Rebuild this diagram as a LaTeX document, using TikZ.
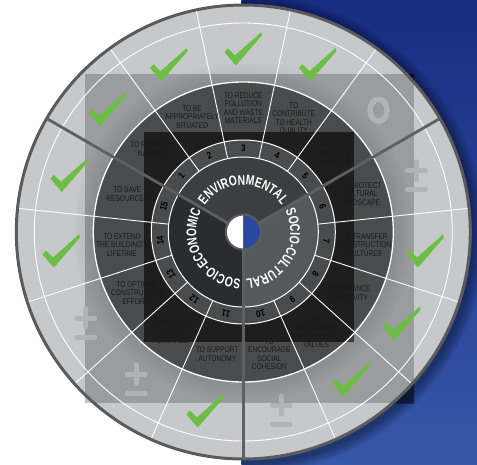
\documentclass[tikz,border=0pt]{standalone}
\usepackage{fontspec}
\setmainfont{Liberation Sans}
\newfontfamily\lblfam{Liberation Sans}[FakeStretch=0.8]
\newfontfamily\catfam{Liberation Sans}[FakeStretch=0.74]
\newfontfamily\numfam{Liberation Sans}[FakeStretch=0.85]
\newcommand\catfnt{\catfam\bfseries\fontsize{14}{14}\selectfont}
\usetikzlibrary{decorations.text}
\definecolor{ringlight}{HTML}{C7C8CA}
\definecolor{textring}{HTML}{606163}
\definecolor{numring}{HTML}{4A4B4D}
\definecolor{envsec}{HTML}{3D3E40}
\definecolor{cultsec}{HTML}{57585A}
\definecolor{econsec}{HTML}{2B2C2E}
\definecolor{catline}{HTML}{5E5F61}
\definecolor{edgegray}{HTML}{5A5B5D}
\definecolor{checkgreen}{HTML}{6DBE45}
\definecolor{symgray}{HTML}{B2B3B5}
\definecolor{discblue}{HTML}{2B48A0}
\definecolor{bgtop}{HTML}{172D82}
\definecolor{bgbot}{HTML}{3757A9}
\definecolor{lbltext}{HTML}{1A1A1A}
\tikzset{
  lbl/.style={align=center, inner sep=0pt, text=lbltext, font=\lblfam\fontsize{8.2}{8.5}\selectfont},
  numlbl/.style={inner sep=0pt, text=black, font=\numfam\bfseries\fontsize{9.5}{9.5}\selectfont},
  thinwhite/.style={white, line width=0.9pt},
  checkmark/.pic={\fill[checkgreen] (-18.8,-3.2) -- (-15.5,0.5) -- (-8.2,-6.3) -- (17.8,16.8) -- (18.8,13.8) -- (-7.5,-16.5) -- cycle;},
  plusminus/.pic={\draw[symgray, line width=5pt, line cap=round] (-9,5) -- (9,5) (0,-4) -- (0,14) (-9,-14) -- (9,-14);},
  zerosym/.pic={\draw[symgray, line width=5.5pt] (0,0) ellipse[x radius=8.5, y radius=11];}
}
\begin{document}
\begin{tikzpicture}[x=1pt,y=1pt]
\useasboundingbox (-243.3,-232) rectangle (233.7,232);
\fill[white] (-243.3,-232) rectangle (233.7,232);
\shade[top color=bgtop,bottom color=bgbot] (-1.8,-232) rectangle (233.7,232);
% soft shadow on the blue
\begin{scope}
  \clip (-1.8,-232) rectangle (233.7,232);
  \foreach \w in {2,4,...,24} \draw[black,opacity=0.03,line width=\w pt] (2,-3) circle[radius=228];
\end{scope}
% outer ring
\fill[ringlight] (0,0) circle[radius=228];
\begin{scope}
  \clip (0,0) circle[radius=208];
  \foreach \w in {4,8,...,40} \draw[black,opacity=0.008,line width=\w pt] (0,0) circle[radius=150];
\end{scope}
% text ring
\fill[textring] (0,0) circle[radius=150];
% overlay squares
\fill[black,opacity=0.22] (-158.3,-171) rectangle (170.7,158);
\begin{scope}
  \clip (-1.8,-232) rectangle (233.7,232);
  \clip (-158.3,-171) rectangle (170.7,158);
  \fill[black,opacity=0.42,even odd rule] (-243.3,-232) rectangle (233.7,232) (0,0) circle[radius=228];
\end{scope}
\fill[black,opacity=0.59] (-99.3,-110) rectangle (110.7,100);
% number ring and sectors
\fill[numring] (0,0) circle[radius=92];
\fill[envsec] (0,0) -- (30:75) arc[start angle=30,end angle=150,radius=75] -- cycle;
\fill[cultsec] (0,0) -- (-90:75) arc[start angle=-90,end angle=30,radius=75] -- cycle;
\fill[econsec] (0,0) -- (150:75) arc[start angle=150,end angle=270,radius=75] -- cycle;
% white circles
\draw[white,line width=1pt] (0,0) circle[radius=75];
\draw[white,line width=1pt] (0,0) circle[radius=92];
\draw[white,line width=1.3pt] (0,0) circle[radius=150];
\draw[thinwhite] (0,0) circle[radius=209];
% radial white lines
\foreach \a in {6,54,78,102,126,174,198,222,246,294,318,342}
  \draw[thinwhite] (\a:75) -- (\a:227);
% outer edge
\draw[edgegray,line width=3pt] (0,0) circle[radius=227];
% category lines
\foreach \a in {30,150,270}
  \draw[catline,line width=2.8pt] (\a:17) -- (\a:227);
% centre disc
\fill[white] (90:17) arc[start angle=90,end angle=270,radius=17] -- cycle;
\fill[discblue] (-90:17) arc[start angle=-90,end angle=90,radius=17] -- cycle;
\draw[edgegray,line width=2pt] (0,0) circle[radius=17.5];
% category texts
\path[decorate,decoration={text along path,text align=center,text color=white,
  text={|\catfnt|ENVIRONMENTAL}}] (150:47) arc[start angle=150,end angle=30,radius=47];
\path[decorate,decoration={text along path,text align=center,text color=white,
  text={|\catfnt|SOCIO-CULTURAL}}] (30:47) arc[start angle=30,end angle=-90,radius=47];
\path[decorate,decoration={text along path,text align=center,text color=white,
  text={|\catfnt|SOCIO-ECONOMIC}}] (-90:47) arc[start angle=-90,end angle=-210,radius=47];
% numbers
\foreach \i in {1,...,15}{
  \pgfmathsetmacro\ang{90-(\i-3)*24}
  \node[numlbl,rotate=\ang-90] (n\i) at (\ang:83.5) {\i};
}
% labels
\node[lbl] (l1) at (138:124) {TO RESPECT\\NATURE};
\node[lbl] (l2) at (114:126) {TO BE\\APPROPRIATELY\\SITUATED};
\node[lbl] (l3) at (90:124) {TO REDUCE\\POLLUTION\\AND WASTE\\MATERIALS};
\node[lbl] (l4) at (66:124) {TO\\CONTRIBUTE\\TO HEALTH\\QUALITY};
\node[lbl] (l5) at (42:124) {TO REDUCE\\NATURAL\\HAZARDS\\EFFECTS};
\node[lbl] (l6) at (18:123) {TO PROTECT\\CULTURAL\\LANDSCAPE};
\node[lbl] (l7) at (-6:122) {TO TRANSFER\\CONSTRUCTION\\CULTURES};
\node[lbl] (l8) at (-30:122) {TO ENHANCE\\CREATIVITY};
\node[lbl] (l9) at (-54:124) {TO\\RECOGNISE\\INTANGIBLE\\VALUES};
\node[lbl] (l10) at (-78:125) {TO\\ENCOURAGE\\SOCIAL\\COHESION};
\node[lbl] (l11) at (-102:125) {TO SUPPORT\\AUTONOMY};
\node[lbl] (l12) at (-126:124) {TO PROMOTE\\LOCAL\\ACTIVITIES};
\node[lbl] (l13) at (-150:122) {TO OPTIMISE\\CONSTRUCTION\\EFFORTS};
\node[lbl] (l14) at (-174:122) {TO EXTEND\\THE BUILDING'S\\LIFETIME};
\node[lbl] (l15) at (162:122) {TO SAVE\\RESOURCES};
% assessment symbols
\foreach \a in {138,114,90,66,-6,-30,-54,-102,-174,162}
  \pic at (\a:183) {checkmark};
\pic at (42:182) {zerosym};
\foreach \a in {18,-78,-126,-150}
  \pic at (\a:182) {plusminus};
\end{tikzpicture}
\end{document}
